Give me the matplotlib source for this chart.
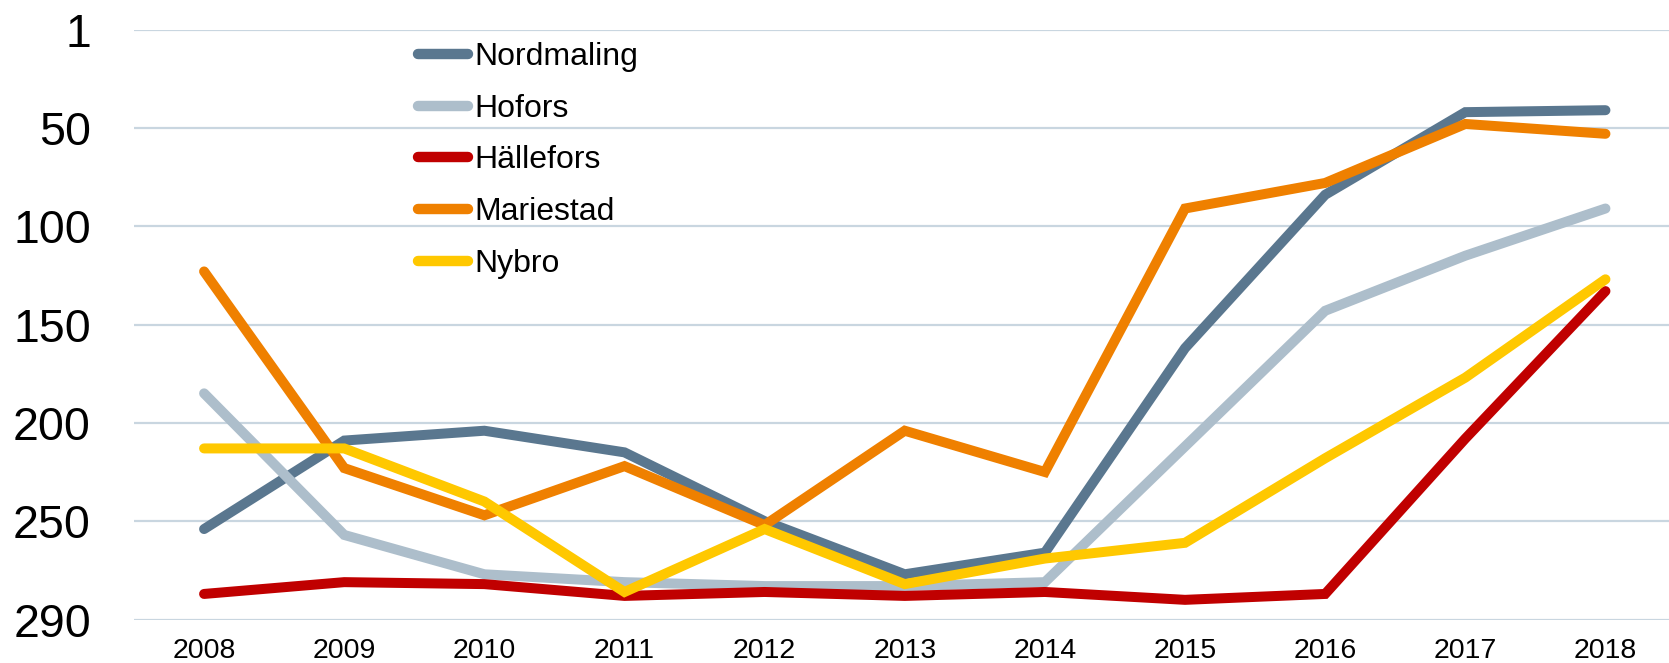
import matplotlib
matplotlib.use("Agg")
import matplotlib.pyplot as plt
from matplotlib.ticker import FixedLocator

plt.rcParams['font.family'] = ['Liberation Sans', 'DejaVu Sans']

years = ["2008", "2009", "2010", "2011", "2012", "2013", "2014", "2015", "2016", "2017", "2018"]
nordmaling = [254, 209, 204, 215, 250, 277, 266, 162, 84, 42, 41]
hofors = [185, 257, 277, 281, 283, 283, 281, 212, 143, 115, 91]
hallefors = [287, 281, 282, 288, 286, 288, 286, 290, 287, 208, 133]
mariestad = [123, 223, 247, 222, 252, 204, 225, 91, 78, 48, 53]
nybro = [213, 213, 240, 286, 254, 282, 269, 261, 218, 177, 127]

series = [
    ("Nordmaling", nordmaling, "#5A778F"),
    ("Hofors", hofors, "#ADBECB"),
    ("Hällefors", hallefors, "#C00000"),
    ("Mariestad", mariestad, "#EF8000"),
    ("Nybro", nybro, "#FFC800"),
]

ytick_pos = [0, 50, 100, 150, 200, 250, 300]
ytick_labels = ["1", "50", "100", "150", "200", "250", "290"]

fig = plt.figure(figsize=(16.69, 6.63), dpi=100)
ax = fig.add_axes([0.0803, 0.0656, 0.9236, 0.8898])

x = list(range(len(years)))
for name, vals, col in series:
    ax.plot(x, vals, color=col, lw=7.2, label=name,
            solid_capstyle='round', solid_joinstyle='miter', zorder=3)

ax.set_xlim(-0.5, len(years) - 0.5)
ax.set_ylim(300, 0)
ax.yaxis.set_major_locator(FixedLocator(ytick_pos))
ax.set_yticklabels(ytick_labels)
ax.set_xticks(x)
ax.set_xticklabels(years)

ax.grid(axis='y', color='#C9D6E0', lw=1.6, zorder=0)
ax.grid(axis='x', visible=False)
for s in ax.spines.values():
    s.set_visible(False)
ax.tick_params(axis='y', length=0, labelsize=33.5, pad=31)
ax.tick_params(axis='x', length=0, labelsize=20.5, pad=13)

leg = ax.legend(loc='upper left', bbox_to_anchor=(418 / 1669, 1 - 42 / 663),
                bbox_transform=fig.transFigure, frameon=False, fontsize=23,
                handlelength=1.57, handletextpad=0.2, labelspacing=0.68,
                borderpad=0, borderaxespad=0)
for h in leg.get_lines():
    h.set_linewidth(7.5)
    h.set_solid_capstyle('round')

fig.savefig("out.png", dpi=100)
